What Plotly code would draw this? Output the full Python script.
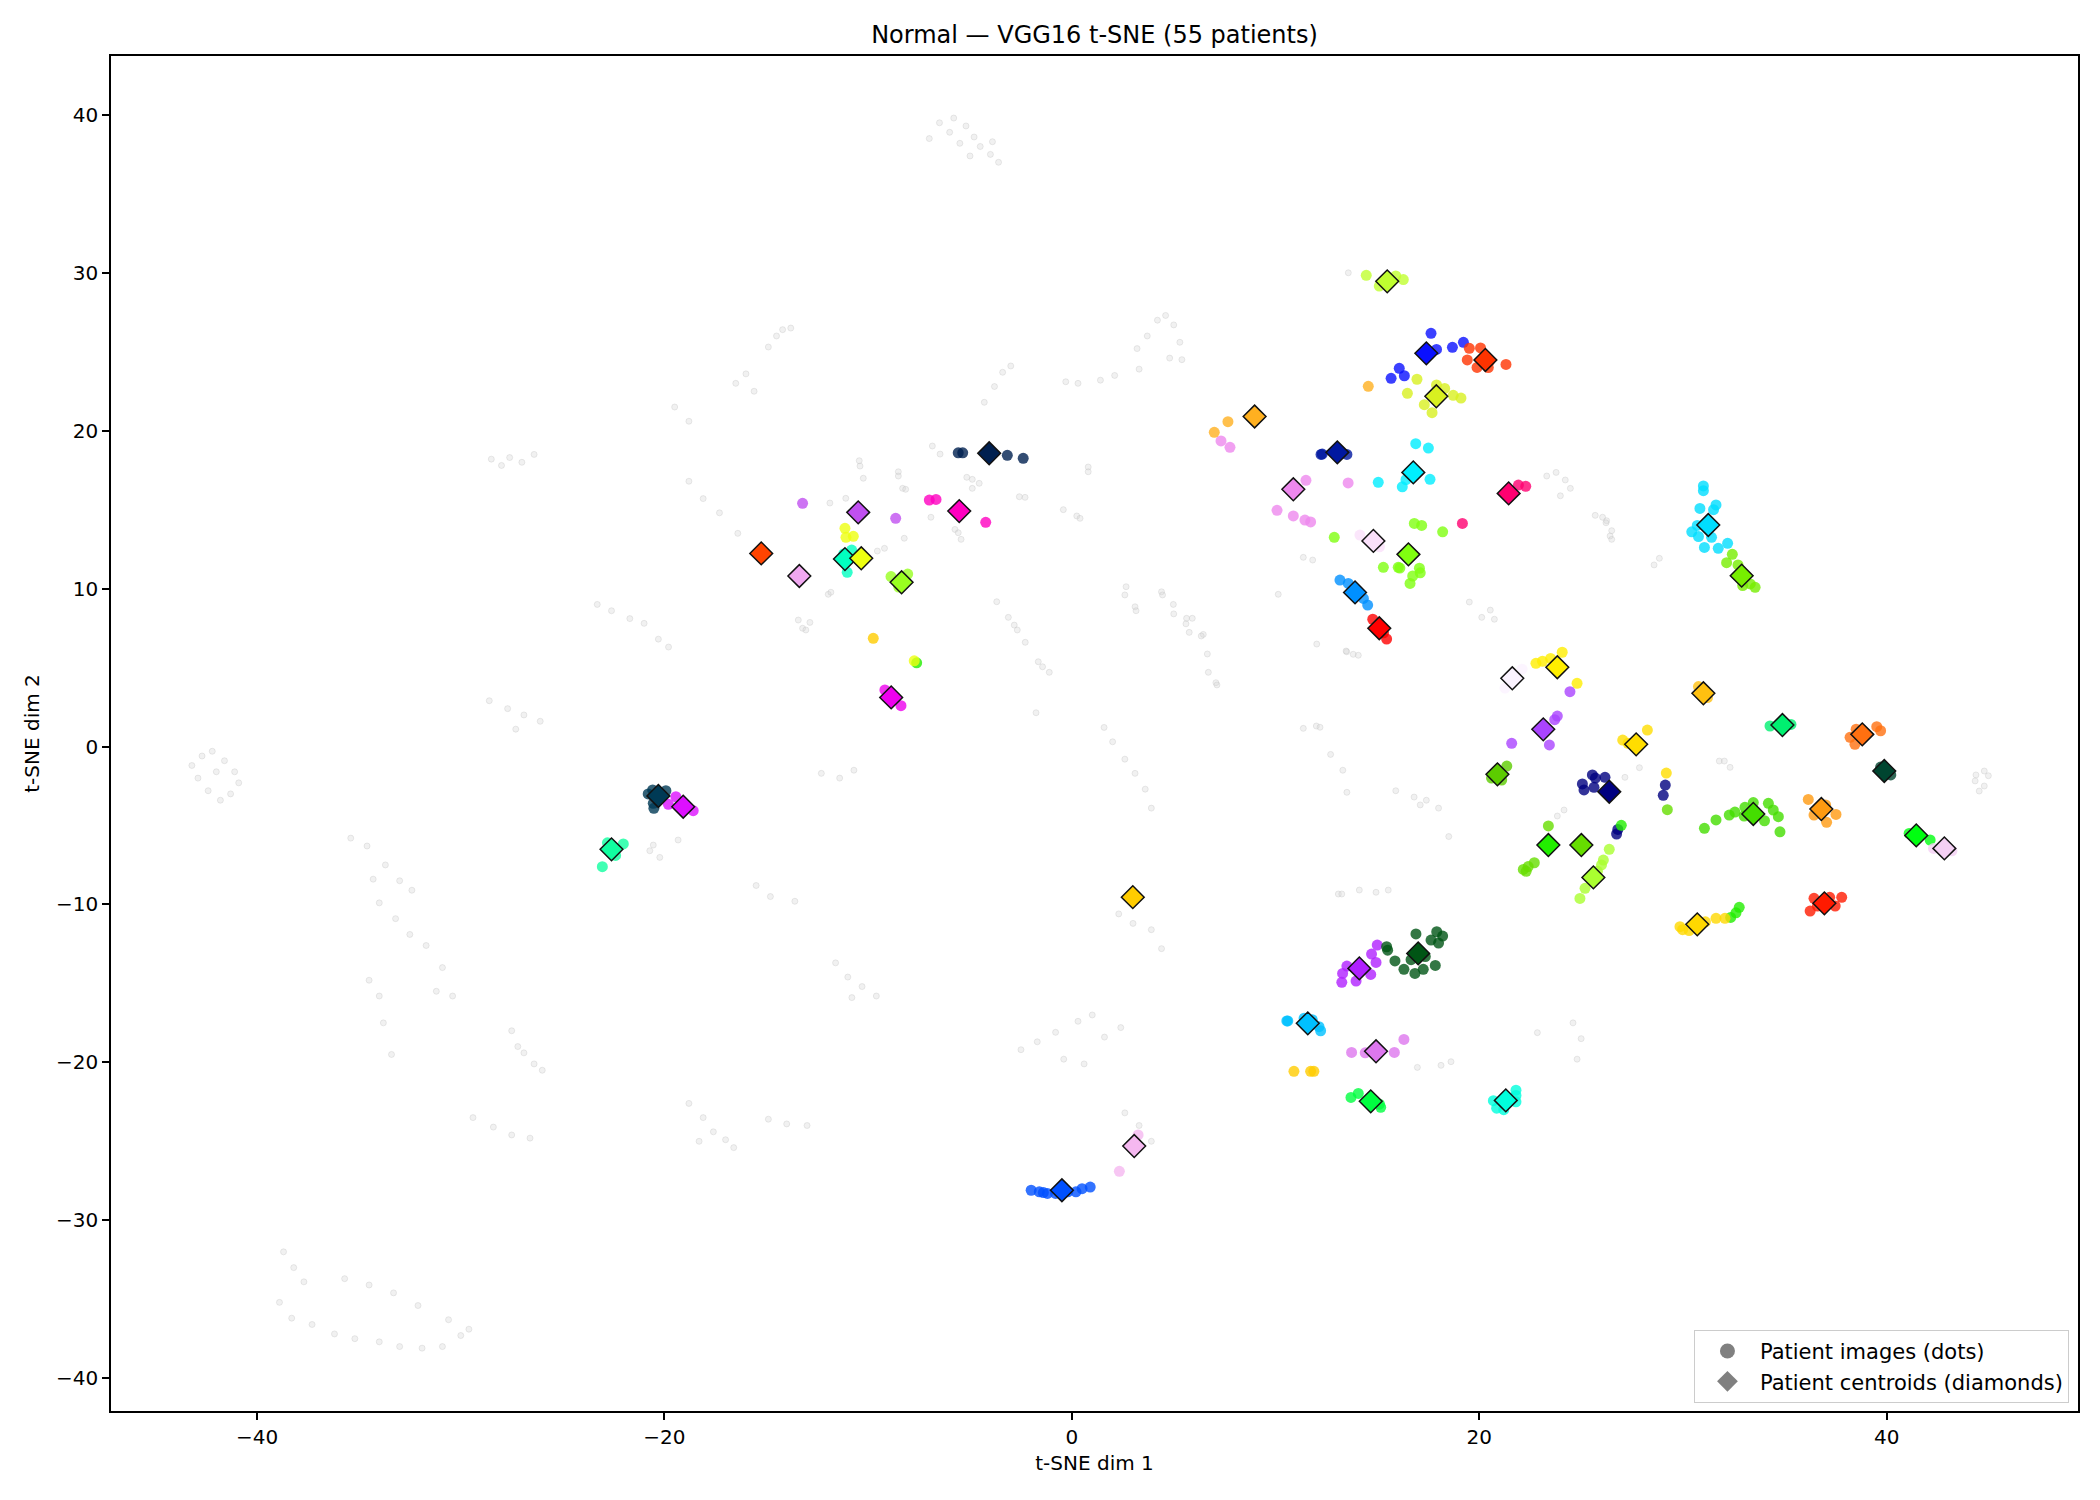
import plotly.graph_objects as go

# ---------------- data ----------------
patient_colors = [
    "#c0ff30", "#0a10ff", "#ff3300", "#d8f020", "#ffb020", "#0018a0", "#00eeff", "#ee88ee",
    "#ff0070", "#fae0fa", "#80ff10", "#0090ff", "#ff0000", "#fbf3ff", "#ffee00", "#aa44ff",
    "#5ccc00", "#000080", "#ffdd00", "#ffc010", "#00f070", "#ff7010", "#004530", "#ff9a10",
    "#44dd00", "#00ff10", "#f4d0f4", "#22ee00", "#66dd00", "#aaff30", "#ffd800", "#ff1a00",
    "#00ddff", "#77ee00", "#002050", "#ff00c0", "#c050f0", "#ff4400", "#f0a8f0", "#00ffc0",
    "#eeff10", "#99ff20", "#ee00ee", "#003a55", "#dd10ff", "#10ffa0", "#ffcc00", "#0050ff",
    "#f5b8f0", "#b020ff", "#005515", "#00c0ff", "#dd77ee", "#00ff40", "#00ffdd",
]

centroid_x = [
    15.48, 17.40, 20.30, 17.89, 8.97, 13.03, 16.76, 10.87,
    21.44, 14.80, 16.52, 13.90, 15.09, 21.62, 23.83, 23.14,
    20.89, 26.38, 27.70, 31.00, 34.88, 38.80, 39.88, 36.79,
    33.45, 41.45, 42.83, 23.39, 25.01, 25.60, 30.70, 36.94,
    31.24, 32.88, -4.06, -5.53, -10.49, -15.25, -13.38, -11.14,
    -10.34, -8.36, -8.87, -20.30, -19.08, -22.60, 2.99, -0.49,
    3.06, 14.11, 17.00, 11.58, 14.93, 14.67, 21.30,
]
centroid_y = [
    29.46, 24.90, 24.48, 22.18, 20.90, 18.63, 17.36, 16.29,
    16.03, 13.02, 12.17, 9.76, 7.49, 4.32, 5.02, 1.09,
    -1.76, -2.86, 0.14, 3.37, 1.36, 0.77, -1.55, -3.96,
    -4.27, -5.63, -6.45, -6.24, -6.24, -8.29, -11.26, -9.93,
    14.03, 10.82, 18.57, 14.91, 14.83, 12.23, 10.80, 11.87,
    11.92, 10.40, 3.11, -3.13, -3.81, -6.51, -9.54, -28.10,
    -25.30, -14.05, -13.10, -17.53, -19.30, -22.47, -22.41,
]

dots_x = [
    [14.45, 16.27, 15.09, 15.9],
    [17.63, 17.9, 18.68, 19.22, 16.07, 16.32, 15.67],
    [19.51, 20.06, 19.41, 19.89, 20.44, 21.31, 20.5],
    [16.94, 16.47, 17.9, 18.3, 18.72, 19.1, 17.3, 17.68],
    [6.99, 7.66, 14.55],
    [12.23, 12.29, 13.5],
    [16.88, 17.5, 15.04, 16.22, 17.58, 16.4],
    [11.49, 10.07, 10.87, 11.44, 11.72, 7.32, 7.76, 13.56],
    [21.92, 22.28, 19.17],
    [14.14, 15.1],
    [15.29, 16.02, 16.1, 17.06, 17.1, 16.73, 16.6, 16.81, 17.17, 18.2, 12.88],
    [13.16, 13.57, 14.31, 14.52],
    [14.77, 15.45, 15.3],
    [22.1, 21.26],
    [22.78, 23.1, 23.5, 24.07, 24.8],
    [23.83, 23.7, 21.59, 23.44, 24.45],
    [21.35, 21.1, 20.6],
    [25.55, 26.17, 25.7, 25.06, 25.14, 25.63, 26.74, 26.8, 29.13, 29.03],
    [27.04, 27.3, 28.25, 29.18],
    [30.76, 31.2],
    [34.27, 35.3],
    [38.5, 38.2, 38.44, 39.51, 39.7],
    [40.2, 39.7],
    [36.15, 36.43, 37.05, 37.51, 37.0],
    [31.05, 31.62, 32.27, 32.55, 33.04, 33.45, 34.19, 34.43, 34.68, 34.0, 34.76, 33.0],
    [42.13, 41.1],
    [42.3, 43.2],
    [26.97, 32.34, 32.6, 32.76, -7.62],
    [23.39, 22.7, 22.4, 22.16, 22.3, 29.23],
    [26.38, 26.09, 26.0, 25.19, 24.94, 25.8],
    [29.85, 29.98, 30.3, 31.1, 31.62, 32.06],
    [36.24, 36.43, 37.2, 37.79, 37.47, 36.6],
    [31.0, 31.0, 30.83, 31.62, 31.5, 30.43, 30.76, 31.4, 31.05, 31.73, 32.19, 30.7],
    [32.42, 32.14, 32.7, 32.93, 33.54, 33.3],
    [-5.58, -5.36, -3.17, -2.39],
    [-7.0, -6.67, -4.23],
    [-13.22, -8.65],
    [],
    [],
    [-10.81, -11.03, -11.2],
    [-11.14, -11.09, -10.73, -7.74],
    [-8.88, -8.06, -8.5],
    [-9.18, -8.39],
    [-20.58, -19.93, -20.52, -20.55, -20.8],
    [-19.44, -19.81, -18.59],
    [-22.02, -22.8, -22.4, -23.05],
    [-9.75, 10.9, 11.72, 11.88],
    [-2.0, -1.6, -1.2, -0.8, -0.2, 0.2, 0.5, 0.9, -1.4],
    [2.33, 3.25],
    [14.99, 14.71, 14.93, 13.5, 13.29, 13.25, 13.95, 14.67],
    [16.89, 17.91, 18.2, 17.63, 18.0, 15.45, 15.5, 15.86, 16.3, 16.84, 17.25, 17.84, 16.65, 17.35],
    [10.55, 10.6, 11.4, 11.8, 12.13, 12.21],
    [13.73, 14.4, 15.83, 16.3],
    [13.7, 14.06, 15.16, 15.1],
    [21.8, 20.69, 20.85, 21.2, 21.8, 21.8],
]
dots_y = [
    [29.84, 29.57, 29.16, 29.8],
    [26.17, 25.15, 25.28, 25.6, 23.95, 23.48, 23.32],
    [25.22, 25.24, 24.48, 24.01, 24.0, 24.2, 24.4],
    [23.26, 22.37, 22.9, 22.68, 22.24, 22.07, 21.65, 21.14],
    [19.9, 20.57, 22.81],
    [18.5, 18.52, 18.5],
    [19.18, 18.9, 16.73, 16.45, 16.92, 16.9],
    [16.86, 14.96, 14.6, 14.34, 14.22, 19.35, 18.95, 16.69],
    [16.56, 16.48, 14.13],
    [13.39, 12.65],
    [11.35, 11.35, 11.3, 11.29, 11.0, 10.8, 10.33, 14.13, 14.0, 13.6, 13.25],
    [10.54, 10.33, 9.38, 8.96],
    [8.06, 6.81, 7.2],
    [4.9, 3.7],
    [5.27, 5.4, 5.58, 5.97, 4.0],
    [1.93, 1.7, 0.2, 0.1, 3.47],
    [-1.24, -2.12, -2.0],
    [-1.8, -1.95, -2.0, -2.37, -2.75, -2.58, -5.54, -5.25, -2.44, -3.09],
    [0.41, 0.2, 1.04, -1.68],
    [3.8, 3.1],
    [1.3, 1.4],
    [1.1, 0.58, 0.14, 1.26, 1.0],
    [-1.8, -1.3],
    [-3.35, -4.34, -4.8, -4.3, -3.7],
    [-5.18, -4.65, -4.34, -4.15, -3.85, -3.55, -3.6, -4.02, -4.44, -4.7, -5.4, -4.4],
    [-5.92, -5.5],
    [-6.45, -6.6],
    [-4.99, -10.82, -10.53, -10.18, 5.3],
    [-5.03, -7.36, -7.6, -7.78, -7.9, -4.0],
    [-6.51, -7.19, -7.5, -8.98, -9.62, -7.9],
    [-11.41, -11.6, -11.65, -11.1, -10.88, -10.88],
    [-10.42, -9.61, -9.55, -9.55, -10.1, -10.1],
    [16.5, 16.2, 15.08, 15.3, 15.0, 13.6, 13.3, 13.25, 12.61, 12.55, 12.87, 14.0],
    [12.17, 11.64, 11.5, 10.19, 10.08, 10.3],
    [18.6, 18.6, 18.44, 18.25],
    [15.61, 15.65, 14.2],
    [15.4, 14.45],
    [],
    [],
    [12.44, 11.03, 12.2],
    [13.82, 13.25, 13.31, 5.43],
    [10.76, 10.92, 10.1],
    [3.58, 2.59],
    [-2.75, -2.8, -3.91, -3.6, -3.0],
    [-3.18, -3.66, -4.06],
    [-6.17, -6.1, -6.9, -7.61],
    [6.85, -20.57, -20.57, -20.57],
    [-28.1, -28.2, -28.3, -28.3, -28.2, -28.2, -28.0, -27.9, -28.25],
    [-26.9, -24.6],
    [-12.57, -13.14, -13.67, -13.9, -14.37, -14.93, -14.85, -14.43],
    [-11.87, -11.73, -12.0, -12.26, -12.45, -12.68, -12.9, -13.58, -14.11, -14.37, -14.11, -13.86, -13.5, -13.3],
    [-17.38, -17.38, -17.2, -17.3, -17.74, -18.0],
    [-19.37, -19.4, -19.37, -18.55],
    [-22.22, -21.97, -22.85, -22.65],
    [-21.76, -22.43, -22.9, -23.0, -22.1, -22.5],
]

# faint background embedding points (other images)
background_x = [
    0.8, 0.8, -0.42, 0.24, 0.4, 2.66, 2.6, 4.4, 4.45, 3.1, 3.15, 4.98, 5.0, 5.63, 5.91, 5.6, 5.76, 6.45, 6.35,
    6.65, 6.7, 7.07, 7.12, -1.65, -1.44, -1.11, -1.76, 1.58, 11.36, 11.82, 10.13, 12.02, 13.49, 11.36, 12.0, 12.18,
    -6.85, -6.47, -10.44, -10.4, -10.24, -8.52, -8.52, -8.31, -8.16, -11.88, -11.1, -5.16, -4.89, -4.55, -4.89,
    -2.58, -2.3, -6.92, -5.74, -5.58, -5.44, -8.23, -9.55, -9.2, -11.96, -11.83, -13.43, -13.22, -13.06, -12.86,
    -3.69, -3.12, -2.83, -2.68, -2.29,
    13.57, 23.31, 23.77, 24.22, 24.47, 23.98, 25.69, 26.05, 26.25, 26.22, 26.5, 26.42, 26.5, 28.58, 28.84,
    19.51, 20.54, 20.12, 20.74, 13.46, 13.81, 14.06,
    27.86, 27.15, 23.83, 24.16, 31.78, 32.03, 32.31,
    44.38, 44.79, 44.99, 44.34, 44.79, 44.54,
    13.08, 13.25, 14.11, 14.93, 15.53, 22.85, 16.96, 18.12, 18.61,
    -20.55, -20.72, -20.23, -19.33,
    -7.0, -6.5, -5.8, -5.2, -4.8, -4.5, -4.0, -3.6, -5.5, -6.0, -3.9, -5.0,
    -16.5, -16.0, -15.6, -14.9, -14.5, -13.8, -14.2,
    -3.8, -3.4, -3.0, -4.3,
    3.2, 3.7, 4.2, 4.6, 5.0, 5.3, 4.8, 3.3, 5.4,
    0.3, 1.4, 2.1, -0.3,
    -28.5, -27.6, -27.0, -28.0, -26.4,
    -23.3, -22.6, -21.7, -21.0, -20.3, -19.8,
    -18.8, -18.1, -17.3, -16.4,
    -28.6, -27.7, -26.9, -26.1, -27.3,
    -43.2, -42.7, -42.2, -41.6, -41.1, -40.9, -41.3, -41.8, -42.4, -42.9, -42.0,
    -35.4, -34.6, -33.7, -33.0, -32.4, -34.0, -33.2, -32.5, -31.7, -30.9, -30.4, -31.2, -34.3,
    -27.5, -26.9, -26.4, -26.0, -27.2,
    -29.4, -28.4, -27.5, -26.6,
    -18.8, -18.1, -17.6, -17.0, -16.6, -18.3,
    -14.9, -14.0, -13.0,
    -38.7, -38.2, -37.7, -38.9, -38.3, -37.3, -36.2, -35.2, -34.0, -33.0, -31.9, -30.9, -30.0,
    -35.7, -34.5, -33.3, -32.1, -30.6, -29.6,
    -11.6, -11.0, -10.3, -9.6, -10.8,
    -15.5, -14.8, -13.6,
    -12.3, -11.4, -10.7,
    -2.5, -1.7, -0.8, 0.3, 1.0, -0.4, 0.6, 1.6, 2.4,
    2.3, 3.0, 3.9, 4.4,
    2.0, 2.6, 3.1, 3.6, 3.9,
    17.1, 18.0, 18.5,
    24.6, 25.0, 24.8,
    2.6, 3.3, 3.9,
    12.7, 13.3, 13.5,
    15.9, 16.8, 17.4,
    -19.5, -18.8,
    -34.5, -34.0, -33.8, -33.4,
]
background_y = [
    17.7, 17.4, 15.0, 14.6, 14.45, 10.12, 9.6, 9.8, 9.6, 8.85, 8.6, 9.0, 8.4, 8.12, 8.12, 7.77, 7.23, 7.1, 7.0,
    5.86, 4.7, 4.04, 3.9, 5.37, 5.05, 4.7, 2.14, 1.21, 11.98, 11.81, 9.64, 6.49, 6.0, 1.15, 1.3, 1.22,
    19.03, 18.52, 18.1, 17.76, 16.99, 17.4, 17.13, 16.35, 16.29, 15.42, 15.72, 17.05, 16.92, 16.67, 16.35,
    15.82, 15.78, 14.52, 13.75, 13.54, 13.12, 13.19, 12.38, 12.55, 9.64, 9.77, 8.01, 7.49, 7.38, 7.86,
    9.17, 8.18, 7.69, 7.38, 6.6,
    30.0, 17.13, 17.36, 16.88, 16.35, 15.88, 14.64, 14.52, 14.3, 14.17, 13.67, 13.33, 13.12, 11.5, 11.92,
    9.15, 8.64, 8.18, 8.06, 6.05, 5.84, 5.78,
    -1.34, -1.95, -4.4, -4.02, -0.92, -0.92, -1.32,
    -1.8, -1.55, -1.85, -2.18, -2.5, -2.82,
    -9.34, -9.34, -9.09, -9.23, -9.09, -18.12, -20.32, -20.19, -19.96,
    -6.24, -6.6, -7.02, -5.92,
    38.5, 39.5, 39.8, 39.3, 38.6, 38.0, 37.5, 37.0, 38.2, 38.9, 38.3, 37.4,
    23.0, 23.6, 22.5, 25.3, 26.0, 26.5, 26.4,
    22.8, 23.7, 24.1, 21.8,
    25.2, 26.0, 27.0, 27.3, 26.7, 25.6, 24.6, 23.9, 24.5,
    23.0, 23.2, 23.5, 23.1,
    18.2, 18.3, 18.0, 17.8, 18.5,
    9.0, 8.6, 8.1, 7.8, 6.8, 6.3,
    16.8, 15.7, 14.8, 13.5,
    2.9, 2.4, 2.0, 1.6, 1.1,
    -1.2, -0.6, -0.3, -0.9, -1.6, -2.3, -3.0, -3.4, -2.8, -2.0, -1.6,
    -5.8, -6.3, -7.5, -8.5, -9.1, -9.9, -10.9, -11.9, -12.6, -14.0, -15.8, -15.5, -8.4,
    -18.0, -19.4, -20.1, -20.5, -19.0,
    -23.5, -24.1, -24.6, -24.8,
    -22.6, -23.5, -24.4, -24.9, -25.4, -25.0,
    -23.6, -23.9, -24.0,
    -32.0, -33.0, -33.9, -35.2, -36.2, -36.6, -37.2, -37.5, -37.7, -38.0, -38.1, -38.0, -37.3,
    -33.7, -34.1, -34.6, -35.4, -36.3, -36.9,
    -13.7, -14.6, -15.2, -15.8, -15.9,
    -8.8, -9.5, -9.8,
    -1.7, -2.0, -1.5,
    -19.2, -18.7, -18.1, -17.4, -17.0, -19.8, -20.1, -18.4, -17.8,
    -10.6, -11.2, -11.6, -12.8,
    0.3, -0.8, -1.7, -2.7, -3.9,
    -3.7, -3.9, -5.7,
    -17.5, -18.5, -19.8,
    -23.2, -24.0, -25.0,
    -0.5, -1.5, -2.9,
    -2.8, -3.2, -3.4,
    21.5, 20.6,
    -14.8, -15.8, -17.5, -19.5,
]

title_text = "Normal — VGG16 t-SNE (55 patients)"
x_label = "t-SNE dim 1"
y_label = "t-SNE dim 2"
x_ticks = [-40, -20, 0, 20, 40]
y_ticks = [-40, -30, -20, -10, 0, 10, 20, 30, 40]
legend_labels = ["Patient images (dots)", "Patient centroids (diamonds)"]

# ---------------- figure ----------------
FONT = "DejaVu Sans"
W, H = 2092, 1492  # page body adds an 8px margin on top/left
fig = go.Figure()

fig.add_trace(go.Scatter(
    x=background_x, y=background_y, mode="markers", showlegend=False, hoverinfo="skip",
    marker=dict(size=6, color="rgba(212,212,212,0.32)",
                line=dict(color="rgba(190,190,190,0.32)", width=1)),
))

flat_x, flat_y, flat_c = [], [], []
for c, xs, ys in zip(patient_colors, dots_x, dots_y):
    flat_x += xs
    flat_y += ys
    flat_c += [c] * len(xs)

fig.add_trace(go.Scatter(
    x=flat_x, y=flat_y, mode="markers", showlegend=False,
    marker=dict(size=11, color=flat_c, opacity=0.8, line=dict(width=0)),
))

fig.add_trace(go.Scatter(
    x=centroid_x, y=centroid_y, mode="markers", showlegend=False,
    marker=dict(symbol="diamond", size=17.5, color=patient_colors,
                line=dict(color="#111111", width=1.5)),
))

# legend proxies
fig.add_trace(go.Scatter(
    x=[None], y=[None], mode="markers", name=legend_labels[0],
    marker=dict(size=15, color="#808080"),
))
fig.add_trace(go.Scatter(
    x=[None], y=[None], mode="markers", name=legend_labels[1],
    marker=dict(symbol="diamond", size=16, color="#808080"),
))

axis_common = dict(
    showgrid=False, zeroline=False, showline=True, linecolor="black", linewidth=1.5,
    mirror=True, ticks="outside", ticklen=7, tickwidth=1.5, tickcolor="black",
    tickfont=dict(family=FONT, size=20, color="black"),
)

fig.update_layout(
    width=W, height=H,
    paper_bgcolor="white", plot_bgcolor="white",
    margin=dict(l=103, r=22, t=48, b=89),
    font=dict(family=FONT, color="black"),
    title=dict(text=title_text, x=0.5, xref="paper", y=1 - 27 / H, yref="container",
               xanchor="center", yanchor="middle",
               font=dict(family=FONT, size=24, color="black")),
    xaxis=dict(range=[-47.17, 49.39], tickvals=x_ticks,
               title=dict(text=x_label, font=dict(family=FONT, size=20), standoff=8),
               **axis_common),
    yaxis=dict(range=[-42.08, 43.73], tickvals=y_ticks,
               title=dict(text=y_label, font=dict(family=FONT, size=20), standoff=11),
               **axis_common),
    legend=dict(x=0.9954, y=0.006, xanchor="right", yanchor="bottom",
                bgcolor="white", bordercolor="#cccccc", borderwidth=1,
                font=dict(family=FONT, size=21, color="black"),
                itemsizing="trace", itemwidth=55, tracegroupgap=2),
    showlegend=True,
)

fig.write_html("out.html")
